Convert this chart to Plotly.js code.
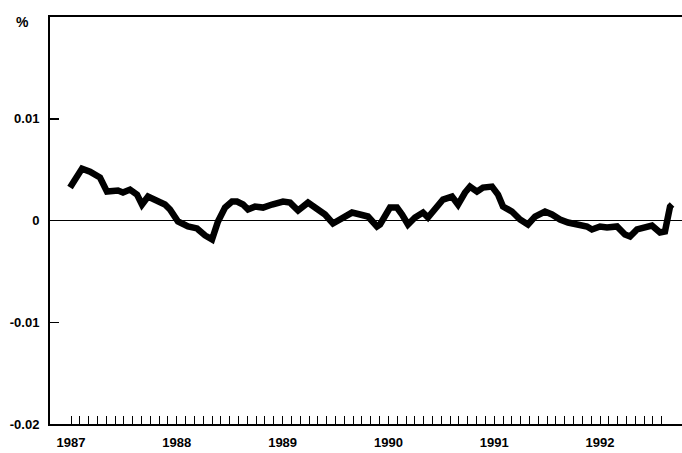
<!DOCTYPE html>
<html>
<head>
<meta charset="utf-8">
<script src="https://cdn.plot.ly/plotly-3.0.1.min.js"></script>
<style>
html,body{margin:0;padding:0;background:#fff;}
#chart{width:682px;height:453px;}
</style>
</head>
<body>
<div id="chart"></div>
<script>
// Time in decimal years, value in %
const years = [
  1986.991, 1987.047, 1987.104, 1987.180, 1987.246, 1987.274, 1987.340, 1987.397, 1987.444, 1987.491,
  1987.558, 1987.624, 1987.671, 1987.728, 1987.813, 1987.888, 1987.936, 1988.011, 1988.106, 1988.191,
  1988.267, 1988.333, 1988.389, 1988.456, 1988.522, 1988.569, 1988.626, 1988.673, 1988.739, 1988.815,
  1988.900, 1989.004, 1989.070, 1989.146, 1989.240, 1989.325, 1989.401, 1989.476, 1989.561, 1989.656,
  1989.732, 1989.807, 1989.892, 1989.921, 1990.015, 1990.081, 1990.129, 1990.185, 1990.251, 1990.327,
  1990.374, 1990.459, 1990.516, 1990.601, 1990.658, 1990.724, 1990.771, 1990.837, 1990.894, 1990.979,
  1991.036, 1991.083, 1991.168, 1991.244, 1991.319, 1991.386, 1991.480, 1991.546, 1991.622, 1991.698,
  1991.792, 1991.877, 1991.924, 1992.000, 1992.066, 1992.161, 1992.236, 1992.284, 1992.350, 1992.425,
  1992.491, 1992.567, 1992.614, 1992.662, 1992.681
];
const values = [
  0.00324, 0.00422, 0.00510, 0.00480, 0.00451, 0.00422, 0.00284, 0.00294, 0.00294, 0.00275,
  0.00304, 0.00255, 0.00157, 0.00235, 0.00186, 0.00157, 0.00108, -0.00010, -0.00059, -0.00078,
  -0.00147, -0.00186, -0.00010, 0.00127, 0.00186, 0.00186, 0.00157, 0.00108, 0.00137, 0.00127,
  0.00157, 0.00186, 0.00176, 0.00098, 0.00176, 0.00108, 0.00059, -0.00029, 0.00029, 0.00078,
  0.00059, 0.00039, -0.00059, -0.00039, 0.00127, 0.00127, 0.00059, -0.00039, 0.00029, 0.00078,
  0.00029, 0.00127, 0.00206, 0.00235, 0.00157, 0.00275, 0.00333, 0.00284, 0.00324, 0.00333,
  0.00255, 0.00137, 0.00088, 0.00010, -0.00039, 0.00039, 0.00088, 0.00059, 0.00010, -0.00020,
  -0.00039, -0.00059, -0.00088, -0.00059, -0.00069, -0.00059, -0.00137, -0.00157, -0.00088, -0.00069,
  -0.00049, -0.00118, -0.00108, 0.00137, 0.00157
];

const yearLabels = ['1987', '1988', '1989', '1990', '1991', '1992'];
const firstYear = 1987;
const monthCount = 68;

const yTickVals = [-0.02, -0.01, 0, 0.01];
const yTickText = ['-0.02', '-0.01', '0', '0.01'];
const unitLabel = '%';

// monthly tick marks, labelled each January
const xTickVals = [];
const xTickText = [];
for (let m = 0; m < monthCount; m++) {
  xTickVals.push(firstYear + m / 12);
  xTickText.push(m % 12 === 0 ? yearLabels[m / 12] : '');
}

const font = {family: 'Liberation Sans, Arial, sans-serif', size: 13, color: '#000', weight: 700};

const data = [{
  x: years,
  y: values,
  type: 'scatter',
  mode: 'lines',
  line: {color: '#000', width: 6.5, shape: 'linear'},
  hoverinfo: 'skip'
}];

const layout = {
  width: 682,
  height: 453,
  margin: {l: 50, r: 0, t: 17, b: 29},
  paper_bgcolor: '#fff',
  plot_bgcolor: '#fff',
  showlegend: false,
  font: font,
  xaxis: {
    range: [1986.8015, 1992.775],
    tickmode: 'array',
    tickvals: xTickVals,
    ticktext: xTickText,
    ticks: 'inside',
    ticklen: 8,
    tickwidth: 1,
    tickcolor: '#000',
    showgrid: false,
    zeroline: false,
    showline: true,
    linecolor: '#000',
    linewidth: 2,
    mirror: true,
    tickfont: font,
    ticklabelstandoff: 5
  },
  yaxis: {
    range: [-0.02, 0.02],
    tickmode: 'array',
    tickvals: yTickVals,
    ticktext: yTickText,
    ticks: 'inside',
    ticklen: 9,
    tickwidth: 1.5,
    tickcolor: '#000',
    showgrid: false,
    zeroline: true,
    zerolinecolor: '#000',
    zerolinewidth: 1.5,
    showline: true,
    linecolor: '#000',
    linewidth: 2,
    mirror: false,
    tickfont: font,
    ticklabelstandoff: 6
  },
  annotations: [{
    text: unitLabel,
    xref: 'paper', yref: 'paper',
    x: -0.044, y: 0.988,
    xanchor: 'center', yanchor: 'middle',
    showarrow: false,
    font: {family: font.family, size: 14, color: '#000', weight: 700}
  }]
};

Plotly.newPlot('chart', data, layout, {staticPlot: true, displayModeBar: false});
</script>
</body>
</html>
